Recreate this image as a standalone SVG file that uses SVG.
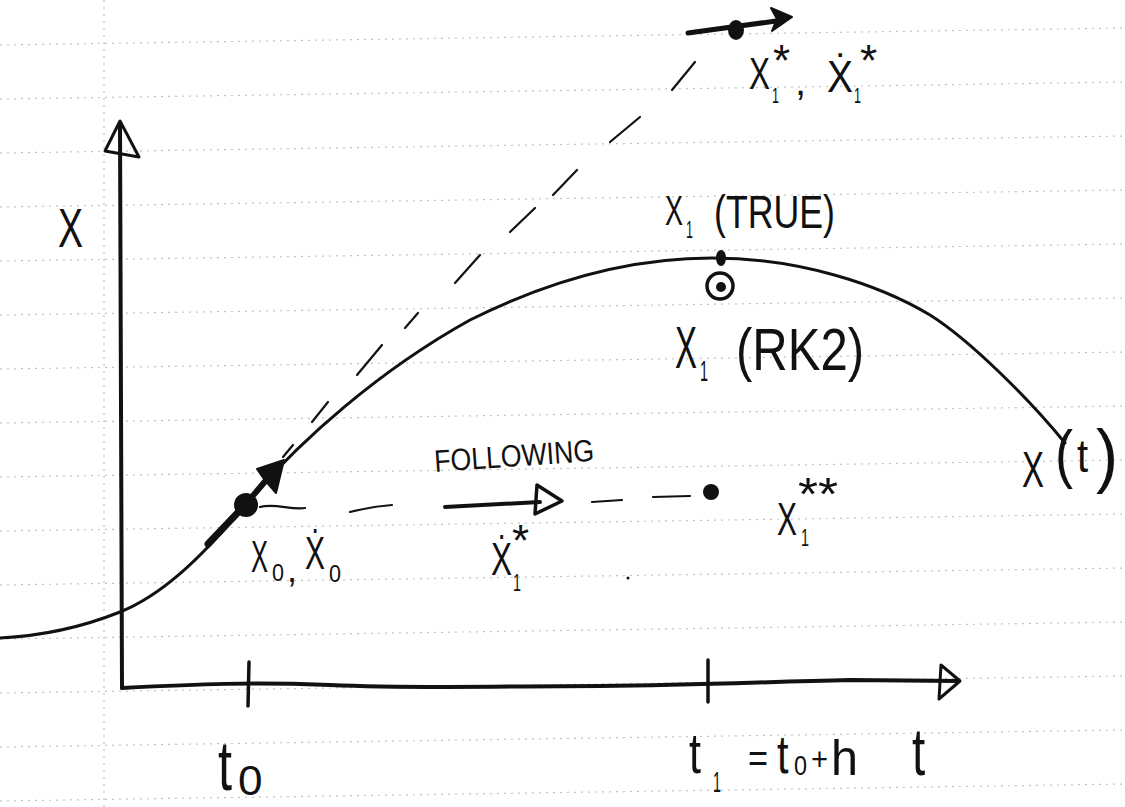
<svg xmlns="http://www.w3.org/2000/svg" width="1125" height="807" viewBox="0 0 1125 807">
<style>
.paper{stroke:#c2c2c2;stroke-width:1.2;stroke-dasharray:2 5;fill:none}
.ink{stroke:#111;fill:none;stroke-linecap:round;stroke-linejoin:round}
.dash{stroke:#111;stroke-width:2.2;fill:none;stroke-linecap:round}
.hw{font-family:"Liberation Sans","DejaVu Sans",sans-serif;fill:#111}
</style>
<rect width="1125" height="807" fill="#fff"/>
<g id="paper">
<line class="paper" x1="0" y1="45" x2="1125" y2="28"/>
<line class="paper" x1="0" y1="99" x2="1125" y2="82"/>
<line class="paper" x1="0" y1="153" x2="1125" y2="136"/>
<line class="paper" x1="0" y1="207" x2="1125" y2="190"/>
<line class="paper" x1="0" y1="261" x2="1125" y2="244"/>
<line class="paper" x1="0" y1="315" x2="1125" y2="298"/>
<line class="paper" x1="0" y1="369" x2="1125" y2="352"/>
<line class="paper" x1="0" y1="423" x2="1125" y2="406"/>
<line class="paper" x1="0" y1="477" x2="1125" y2="460"/>
<line class="paper" x1="0" y1="531" x2="1125" y2="514"/>
<line class="paper" x1="0" y1="585" x2="1125" y2="568"/>
<line class="paper" x1="0" y1="639" x2="1125" y2="622"/>
<line class="paper" x1="0" y1="693" x2="1125" y2="676"/>
<line class="paper" x1="0" y1="747" x2="1125" y2="730"/>
<line class="paper" x1="0" y1="801" x2="1125" y2="784"/>
<line class="paper" x1="104" y1="0" x2="104" y2="807"/>
</g>
<g id="axes">
<line class="ink" x1="120" y1="124" x2="122" y2="688" stroke-width="4"/>
<polygon class="ink" points="120,121 105,151 139,157" stroke-width="3"/>
<path class="ink" d="M122,688 C200,684 250,682 330,685 C420,689 500,686 600,686 C700,685 760,682 850,680 L958,681" stroke-width="4"/>
<polygon class="ink" points="960,681 941,665 939,699" stroke-width="3" fill="#fff"/>
<line class="ink" x1="249" y1="662" x2="248" y2="706" stroke-width="3.5"/>
<line class="ink" x1="708" y1="660" x2="708" y2="702" stroke-width="3.5"/>
<text class="hw" x="58" y="247" font-size="55" textLength="25" lengthAdjust="spacingAndGlyphs">X</text>
<text class="hw" font-size="56" transform="translate(912,775) scale(0.85,1.2)">t</text>
</g>
<g id="curve">
<path class="ink" d="M0,638 C40,636 80,628 120,612 C160,596 200,560 245,505 C300,440 380,370 470,320 C560,275 640,258 712,258 C800,258 880,285 930,315 C970,340 1030,400 1065,443" stroke-width="3"/>
</g>
<g id="connectors">
<g id="tangent-dashes">
<line class="dash" x1="283" y1="457" x2="293" y2="445"/>
<line class="dash" x1="312" y1="422" x2="328" y2="402"/>
<line class="dash" x1="357" y1="375" x2="382" y2="345"/>
<line class="dash" x1="405" y1="328" x2="418" y2="313"/>
<line class="dash" x1="455" y1="283" x2="480" y2="255"/>
<line class="dash" x1="510" y1="232" x2="535" y2="208"/>
<line class="dash" x1="553" y1="195" x2="577" y2="170"/>
<line class="dash" x1="610" y1="142" x2="640" y2="117"/>
<line class="dash" x1="672" y1="90" x2="695" y2="62"/>
</g>
<g id="horizontal-dashes">
<path class="dash" d="M260,507 C275,503 290,510 305,508"/>
<path class="dash" d="M350,512 C365,508 378,506 392,505"/>
<line class="dash" x1="592" y1="502" x2="622" y2="500"/>
<line class="dash" x1="653" y1="497" x2="690" y2="496"/>
</g>
<g id="following-arrow">
<line class="ink" x1="445" y1="507" x2="540" y2="502" stroke-width="4"/>
<polygon class="ink" points="562,501 537,485 535,514" stroke-width="3.5" fill="#fff"/>
</g>
<g id="upper-arrow">
<line class="ink" x1="688" y1="33" x2="776" y2="21" stroke-width="5"/>
<polygon points="792,17 771,8 777,19 772,31" fill="#111" stroke="#111" stroke-width="2" stroke-linejoin="round"/>
</g>
<g id="start-arrow">
<line class="ink" x1="208" y1="544" x2="245" y2="505" stroke-width="7"/>
<line class="ink" x1="245" y1="505" x2="268" y2="478" stroke-width="6"/>
<polygon points="284,460 257,469 264,479 276,493" fill="#111" stroke="#111" stroke-width="2" stroke-linejoin="round"/>
</g>
</g>
<g id="x0">
<circle cx="246" cy="505" r="12" fill="#111"/>
<text class="hw" x="251" y="572" font-size="44" textLength="17" lengthAdjust="spacingAndGlyphs">X</text>
<text class="hw" x="272" y="581" font-size="24" textLength="12" lengthAdjust="spacingAndGlyphs">0</text>
<text class="hw" x="287" y="582" font-size="36">,</text>
<text class="hw" x="305" y="569" font-size="46" textLength="20" lengthAdjust="spacingAndGlyphs">Ẋ</text>
<text class="hw" x="329" y="582" font-size="24" textLength="12" lengthAdjust="spacingAndGlyphs">0</text>
</g>
<g id="x1dot-star">
<text class="hw" x="491" y="575" font-size="46" textLength="21" lengthAdjust="spacingAndGlyphs">Ẋ</text>
<text class="hw" x="512" y="556" font-size="44">*</text>
<text class="hw" x="513" y="591" font-size="24" textLength="8" lengthAdjust="spacingAndGlyphs">1</text>
<text class="hw" x="435" y="472" font-size="31" textLength="160" lengthAdjust="spacingAndGlyphs" transform="rotate(-4 435 472)">FOLLOWING</text>
<circle cx="628" cy="578" r="1.5" fill="#111"/>
</g>
<g id="x1-2star">
<circle cx="711" cy="492" r="8" fill="#111"/>
<text class="hw" x="777" y="535" font-size="46" textLength="20" lengthAdjust="spacingAndGlyphs">X</text>
<text class="hw" x="801" y="546" font-size="24" textLength="8" lengthAdjust="spacingAndGlyphs">1</text>
<text class="hw" x="798" y="510" font-size="46" textLength="40" lengthAdjust="spacingAndGlyphs">**</text>
</g>
<g id="x1-true">
<ellipse cx="721" cy="258" rx="5" ry="8" fill="#111"/>
<text class="hw" x="665" y="225" font-size="42" textLength="18" lengthAdjust="spacingAndGlyphs">X</text>
<text class="hw" x="686" y="238" font-size="24" textLength="7" lengthAdjust="spacingAndGlyphs">1</text>
<text class="hw" x="714" y="228" font-size="46" textLength="121" lengthAdjust="spacingAndGlyphs">(TRUE)</text>
</g>
<g id="x1-rk2">
<circle cx="720" cy="286" r="13" fill="none" stroke="#111" stroke-width="3.5"/>
<circle cx="721" cy="287" r="5" fill="#111"/>
<text class="hw" x="675" y="368" font-size="60" textLength="22" lengthAdjust="spacingAndGlyphs">X</text>
<text class="hw" x="700" y="381" font-size="30" textLength="8" lengthAdjust="spacingAndGlyphs">1</text>
<text class="hw" x="736" y="370" font-size="60" textLength="128" lengthAdjust="spacingAndGlyphs">(RK2)</text>
</g>
<g id="x1-star">
<ellipse cx="736" cy="30" rx="8" ry="10" fill="#111"/>
<text class="hw" x="749" y="89" font-size="44" textLength="21" lengthAdjust="spacingAndGlyphs">X</text>
<text class="hw" x="773" y="76" font-size="44">*</text>
<text class="hw" x="772" y="103" font-size="22" textLength="7" lengthAdjust="spacingAndGlyphs">1</text>
<text class="hw" x="795" y="95" font-size="40">,</text>
<text class="hw" x="827" y="92" font-size="44" textLength="26" lengthAdjust="spacingAndGlyphs">Ẋ</text>
<text class="hw" x="860" y="76" font-size="44">*</text>
<text class="hw" x="854" y="103" font-size="22" textLength="7" lengthAdjust="spacingAndGlyphs">1</text>
</g>
<g id="xt-label">
<text class="hw" x="1022" y="487" font-size="50" textLength="22" lengthAdjust="spacingAndGlyphs">X</text>
<text class="hw" x="1055" y="476" font-size="64" textLength="18" lengthAdjust="spacingAndGlyphs">(</text>
<text class="hw" font-size="40" transform="translate(1077,472) scale(1,1.15)">t</text>
<text class="hw" x="1096" y="479" font-size="70" textLength="22" lengthAdjust="spacingAndGlyphs">)</text>
</g>
<g id="t0-label">
<text class="hw" font-size="56" transform="translate(218,790) scale(0.9,1.25)">t</text>
<text class="hw" font-size="42" transform="translate(238,795) scale(1.05,1)">0</text>
</g>
<g id="t1-label">
<text class="hw" font-size="48" transform="translate(689,773) scale(0.9,1.2)">t</text>
<text class="hw" x="713" y="792" font-size="30" textLength="8" lengthAdjust="spacingAndGlyphs">1</text>
<text class="hw" x="748" y="772" font-size="40" textLength="20" lengthAdjust="spacingAndGlyphs">=</text>
<text class="hw" font-size="46" transform="translate(777,773) scale(0.9,1.15)">t</text>
<text class="hw" x="794" y="775" font-size="28" textLength="13" lengthAdjust="spacingAndGlyphs">0</text>
<text class="hw" x="811" y="770" font-size="32" textLength="17" lengthAdjust="spacingAndGlyphs">+</text>
<text class="hw" x="831" y="775" font-size="50" textLength="27" lengthAdjust="spacingAndGlyphs">h</text>
</g>
</svg>
